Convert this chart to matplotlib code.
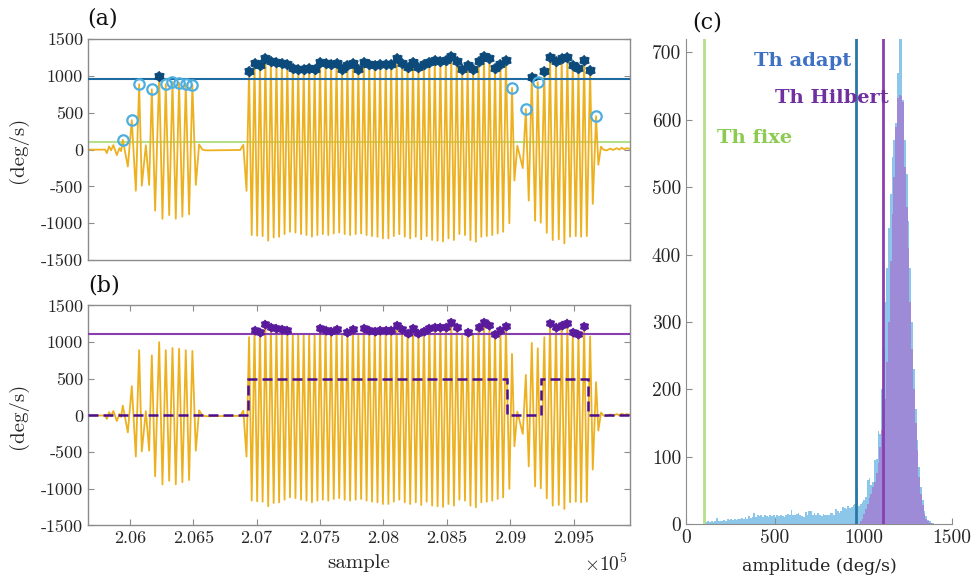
import numpy as np
import matplotlib
matplotlib.use('Agg')
import matplotlib.pyplot as plt

plt.rcParams['mathtext.fontset'] = 'cm'
plt.rcParams['axes.unicode_minus'] = False

# thresholds (deg/s)
th_fixe = 100
th_adapt = 960
th_hilbert = 1110

# gyro signal: quiet parts / small bumps
quiet_t = [205670, 205805, 205818, 205836, 205852, 205870, 205897, 205918, 205931,
           206126, 206546, 206572, 206600, 206870, 206895, 209056, 209716, 209735,
           209760, 209790, 209810, 209840, 209860, 209880, 209900, 209920, 209945]
quiet_v = [0, 0, -47, 44, -10, 62, -75, 20, -20,
           60, 70, 0, -10, -5, 65, 53, 40, 0,
           -10, 15, -5, 20, 0, 25, 5, 20, 10]

# positive peaks
peak_t = [205944, 206015, 206073, 206173, 206231, 206283, 206336, 206388, 206441, 206493,
          206940, 206983, 207026, 207069, 207112, 207156, 207199, 207242, 207285, 207328,
          207371, 207414, 207457, 207500, 207543, 207587, 207630, 207673, 207716, 207759,
          207802, 207845, 207888, 207931, 207974, 208018, 208061, 208104, 208147, 208190,
          208233, 208276, 208319, 208362, 208405, 208449, 208492, 208535, 208578, 208621,
          208664, 208707, 208750, 208793, 208836, 208880, 208923, 208966,
          209014, 209123, 209170, 209217, 209269, 209314, 209361, 209406, 209451, 209493,
          209538, 209583, 209630, 209677]
peak_v = [135, 400, 890, 820, 1000, 890, 920, 910, 890, 880,
          1067, 1172, 1145, 1249, 1204, 1190, 1181, 1168, 1105, 1100,
          1090, 1105, 1100, 1195, 1172, 1158, 1181, 1090, 1145, 1181,
          1090, 1190, 1168, 1149, 1168, 1168, 1168, 1240, 1181, 1127,
          1195, 1127, 1158, 1195, 1213, 1204, 1213, 1272, 1204, 1090,
          1145, 1100, 1204, 1272, 1240, 1113, 1168, 1217,
          840, 553, 990, 917, 1067, 1263, 1203, 1240, 1263, 1145,
          1113, 1217, 1077, 454]

# negative troughs
trough_t = [205984, 206047, 206094, 206152, 206199, 206257, 206310, 206362, 206414, 206467,
            206520, 206920,
            206961, 207004, 207047, 207091, 207134, 207177, 207220, 207263, 207306, 207350,
            207393, 207436, 207479, 207522, 207565, 207608, 207651, 207694, 207737, 207781,
            207824, 207867, 207910, 207953, 207996, 208039, 208082, 208125, 208168, 208211,
            208255, 208298, 208341, 208384, 208427, 208470, 208513, 208556, 208599, 208643,
            208686, 208729, 208772, 208815, 208858, 208901, 208944,
            208993, 209033, 209099, 209146, 209196, 209241, 209288, 209335, 209383, 209427,
            209472, 209517, 209559, 209604, 209651, 209695]
trough_v = [-230, -560, -490, -480, -830, -940, -890, -940, -910, -880,
            -480, -560,
            -1161, -1170, -1175, -1238, -1193, -1184, -1148, -1117, -1126, -1148,
            -1161, -1184, -1161, -1148, -1161, -1139, -1126, -1148, -1161, -1148,
            -1139, -1161, -1175, -1184, -1207, -1207, -1175, -1148, -1184, -1207,
            -1184, -1220, -1175, -1229, -1238, -1247, -1207, -1229, -1148, -1161,
            -1229, -1252, -1184, -1175, -1161, -1139, -1117,
            -1000, -420, -251, -693, -966, -993, -1130, -1229, -1220, -1275,
            -1184, -1175, -1184, -1175, -738, -206]

# movement state (Hilbert detection), scaled to 500
state_edges = [205670, 206933, 208975, 209241, 209610, 209945]
state_level = [0, 500, 0, 500, 0]

# histogram of peak amplitudes (deg/s)
blue_edges = np.arange(100, 1410, 10)
blue_counts = [3, 3, 4, 3, 4, 3, 4, 9, 4, 5,
               5, 6, 5, 7, 6, 8, 6, 7, 6, 8,
               7, 9, 8, 10, 8, 12, 9, 10, 16, 11,
               14, 12, 13, 11, 13, 12, 10, 13, 12, 14,
               11, 13, 12, 14, 12, 11, 13, 15, 14, 21,
               14, 13, 15, 16, 13, 12, 11, 18, 14, 19,
               20, 13, 16, 14, 17, 13, 12, 15, 14, 13,
               14, 17, 16, 13, 22, 19, 17, 20, 25, 24,
               22, 27, 24, 25, 28, 30, 52, 26, 30, 32,
               36, 40, 65, 68, 58, 62, 95, 96, 138, 134,
               200, 260, 330, 380, 440, 490, 545, 570, 595, 670,
               730, 730, 630, 570, 520, 450, 380, 300, 230, 170,
               125, 85, 55, 35, 20, 12, 6, 4, 2, 1]
purple_edges = np.arange(980, 1400, 10)
purple_counts = [5, 8, 15, 22, 30, 38, 45, 55, 62, 75,
                 90, 115, 140, 170, 185, 240, 300, 390, 460, 515,
                 590, 632, 637, 635, 626, 530, 470, 410, 330, 260,
                 200, 150, 110, 70, 45, 28, 15, 8, 4, 2,
                 1]

x_ticks = [206000, 206500, 207000, 207500, 208000, 208500, 209000, 209500]
x_tick_labels = ['2.06', '2.065', '2.07', '2.075', '2.08', '2.085', '2.09', '2.095']
y_ticks = [-1500, -1000, -500, 0, 500, 1000, 1500]
y_tick_labels = ['-1500', '-1000', '-500', '0', '500', '1000', '1500']

c_sig = '#EDB120'
c_adapt = '#1F6AA0'
c_adapt_mk = '#0B4A7A'
c_circ = '#4DAEE0'
c_fixe = '#B5E08A'
c_hil = '#8A3FB0'
c_hil_mk = '#5A1A9C'
c_state = '#4A0E8F'
spine_c = '#8C8C8C'
txt_c = '#262626'

sig_t = np.concatenate([quiet_t, peak_t, trough_t])
sig_v = np.concatenate([quiet_v, peak_v, trough_v])
order = np.argsort(sig_t)
sig_t = sig_t[order]
sig_v = sig_v[order]

pk_t = np.array(peak_t)
pk_v = np.array(peak_v)
hi_a = pk_v > th_adapt
lo_a = (pk_v > th_fixe) & ~hi_a
hi_b = pk_v > th_hilbert

# blunt six-pointed star, like matlab's hexagram at small size
ang = np.pi / 2 + np.arange(12) * np.pi / 6
rad = np.where(np.arange(12) % 2 == 0, 1.0, 0.75)
hexagram = np.column_stack([rad * np.cos(ang), rad * np.sin(ang)])

fig = plt.figure(figsize=(9.75, 5.82), dpi=100)
ax_a = fig.add_axes([0.0903, 0.5533, 0.5559, 0.3792])
ax_b = fig.add_axes([0.0903, 0.0971, 0.5559, 0.3780])
ax_c = fig.add_axes([0.7036, 0.0997, 0.2728, 0.8333])

# (a)
ax_a.plot(sig_t, sig_v, color=c_sig, lw=1.3, zorder=2)
ax_a.axhline(th_adapt, color=c_adapt, lw=1.5, zorder=3)
ax_a.axhline(th_fixe, color=c_fixe, lw=1.5, zorder=1)
ax_a.plot(pk_t[hi_a], pk_v[hi_a], ls='none', marker=hexagram, ms=7.5,
          mfc=c_adapt_mk, mec=c_adapt_mk, mew=0.8, zorder=4)
ax_a.plot(pk_t[lo_a], pk_v[lo_a], ls='none', marker='o', ms=7.5,
          mfc='none', mec=c_circ, mew=1.6, zorder=4)
ax_a.set_xticks([])

# (b)
ax_b.plot(sig_t, sig_v, color=c_sig, lw=1.3, zorder=2)
ax_b.axhline(th_hilbert, color=c_hil, lw=1.5, zorder=3)
ax_b.stairs(state_level, state_edges, baseline=None, color=c_state, lw=1.8,
            ls=(0, (4, 2)), zorder=3)
ax_b.plot(pk_t[hi_b], pk_v[hi_b], ls='none', marker=hexagram, ms=6.5,
          mfc=c_hil_mk, mec=c_hil_mk, mew=0.8, zorder=4)
ax_b.set_xticks(x_ticks)
ax_b.set_xticklabels(x_tick_labels, fontfamily='cmr10')
ax_b.set_xlabel('sample', fontfamily='cmr10', fontsize=15, color=txt_c, labelpad=6)
ax_b.text(0.955, -0.175, r'$\times10^5$', transform=ax_b.transAxes, fontsize=14,
          ha='center', va='center', color=txt_c)

for ax in (ax_a, ax_b):
    ax.set_xlim(205670, 209945)
    ax.set_ylim(-1500, 1500)
    ax.set_yticks(y_ticks)
    ax.set_yticklabels(y_tick_labels, fontfamily='cmr10')
    ax.set_ylabel('(deg/s)', fontfamily='cmr10', fontsize=15, color=txt_c)
    ax.yaxis.set_label_coords(-0.11, 0.5)
    ax.tick_params(direction='in', top=True, right=True, length=4, width=0.8,
                   color=spine_c, labelsize=13, labelcolor=txt_c)
    for s in ax.spines.values():
        s.set_color(spine_c)
        s.set_linewidth(1.0)

# (c)
ax_c.stairs(blue_counts, blue_edges, fill=True, color='#8CC7EA', zorder=1)
ax_c.stairs(purple_counts, purple_edges, fill=True, color='#9E8BD8', zorder=2)
ax_c.axvline(th_fixe, color=c_fixe, lw=2, zorder=3)
ax_c.axvline(th_adapt, color='#2C76A6', lw=2, zorder=3)
ax_c.axvline(th_hilbert, color=c_hil, lw=2, zorder=3)
ax_c.text(385, 688, 'Th adapt', color='#3E70C4', fontsize=14, fontweight='bold',
          family='DejaVu Serif', va='center', ha='left', zorder=4)
ax_c.text(500, 632, 'Th Hilbert', color='#7030A0', fontsize=14, fontweight='bold',
          family='DejaVu Serif', va='center', ha='left', zorder=4)
ax_c.text(174, 573, 'Th fixe', color='#8CCB52', fontsize=14, fontweight='bold',
          family='DejaVu Serif', va='center', ha='left', zorder=4)
ax_c.set_xlim(0, 1500)
ax_c.set_ylim(0, 720)
ax_c.set_xticks([0, 500, 1000, 1500])
ax_c.set_xticklabels(['0', '500', '1000', '1500'], fontfamily='cmr10')
ax_c.set_yticks([0, 100, 200, 300, 400, 500, 600, 700])
ax_c.set_yticklabels(['0', '100', '200', '300', '400', '500', '600', '700'],
                     fontfamily='cmr10')
ax_c.tick_params(direction='in', length=4, width=0.8, color=spine_c,
                 labelsize=14, labelcolor=txt_c)
ax_c.spines['top'].set_visible(False)
ax_c.spines['right'].set_visible(False)
for s in ('left', 'bottom'):
    ax_c.spines[s].set_color(spine_c)
ax_c.set_xlabel('amplitude (deg/s)', family='DejaVu Serif', fontsize=12.5,
                color=txt_c, labelpad=8)

# panel labels
fig.text(0.089, 0.969, '(a)', fontsize=16, family='DejaVu Serif', va='center', color='#111')
fig.text(0.091, 0.510, '(b)', fontsize=16, family='DejaVu Serif', va='center', color='#111')
fig.text(0.710, 0.962, '(c)', fontsize=16, family='DejaVu Serif', va='center', color='#111')

fig.savefig('out.png', dpi=100, facecolor='white')
